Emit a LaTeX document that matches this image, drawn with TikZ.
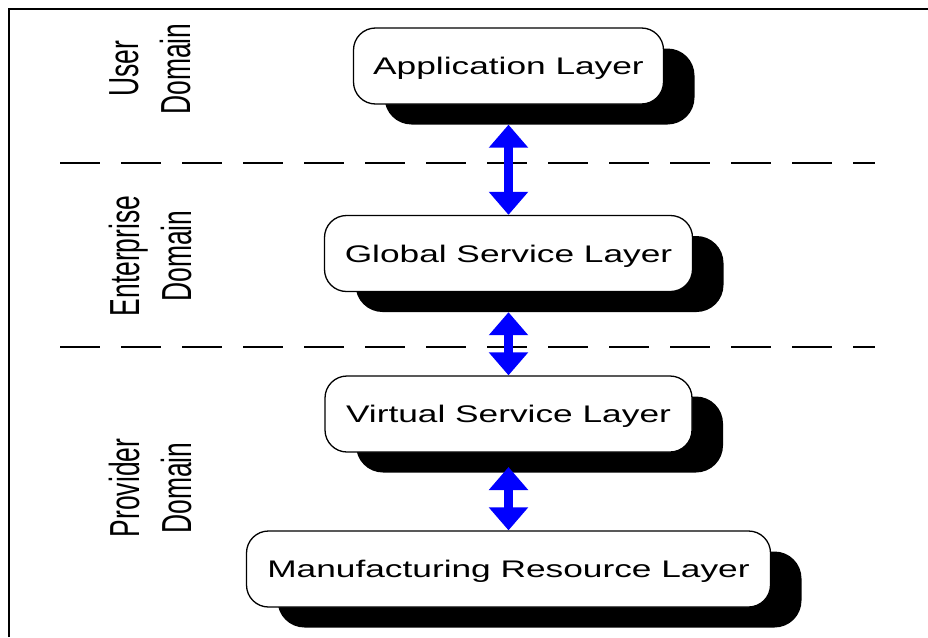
\documentclass[tikz,border=0pt]{standalone}
\usepackage{fontspec}
\setmainfont{Liberation Sans}
\newfontfamily\boxfont[FakeStretch=1.47]{Liberation Sans}
\newfontfamily\domfont[FakeStretch=0.63]{Liberation Sans}
\usetikzlibrary{arrows.meta}
\begin{document}
\begin{tikzpicture}[x=1pt,y=-1pt,
  layerbox/.style={draw=black, line width=1.3pt, fill=white, rounded corners=22pt,
    minimum height=76pt, inner sep=0pt, font=\boxfont\fontsize{24}{28}\selectfont,
    text height=17.2pt, text depth=0pt},
  shadowbox/.style={fill=black, rounded corners=27pt, minimum height=76pt, inner sep=0pt},
  domlabel/.style={rotate=90, align=center, font=\domfont\fontsize{42}{52}\selectfont, inner sep=0pt},
  sepline/.style={line width=2.6pt, dash pattern=on 40pt off 21pt},
  link/.style={blue, line width=9pt, {Triangle[width=38pt,length=23pt]}-{Triangle[width=38pt,length=23pt]}},
  frameline/.style={line width=2pt}
]
\useasboundingbox (0,0) rectangle (928,637);

% frame
\coordinate (fbl) at (8.5,637);
\coordinate (ftl) at (8.5,9);
\coordinate (ftr) at (928,9);
\draw[frameline] (fbl) -- (ftl) -- (ftr);

% domain separators
\coordinate (d1a) at (60,163);
\coordinate (d1b) at (875,163);
\coordinate (d2a) at (60,347);
\coordinate (d2b) at (875,347);
\draw[sepline] (d1a) -- (d1b);
\draw[sepline] (d2a) -- (d2b);

% domain labels
\node[domlabel] (ud) at (150,69) {User\\Domain};
\node[domlabel] (ed) at (150,256) {Enterprise\\Domain};
\node[domlabel] (pd) at (150,488) {Provider\\Domain};

% shadows
\node[shadowbox, minimum width=310pt] (s1) at (539.5,86.5) {};
\node[shadowbox, minimum width=368pt] (s2) at (539.5,274) {};
\node[shadowbox, minimum width=367pt] (s3) at (539.5,434.5) {};
\node[shadowbox, minimum width=524pt] (s4) at (539.5,589.5) {};

% layer boxes
\node[layerbox, minimum width=310pt] (b1) at (508.5,66) {Application Layer};
\node[layerbox, minimum width=368pt] (b2) at (508.5,253.5) {Global Service Layer};
\node[layerbox, minimum width=367pt] (b3) at (508.5,414) {Virtual Service Layer};
\node[layerbox, minimum width=524pt] (b4) at (508.5,569) {Manufacturing Resource Layer};

% connectors
\coordinate (a3top) at (508.5,467);
\draw[link] (b1.south |- s1.south) -- (b2.north);
\draw[link] (b2.south |- s2.south) -- (b3.north);
\draw[link] (a3top) -- (b4.north);
\end{tikzpicture}
\end{document}
